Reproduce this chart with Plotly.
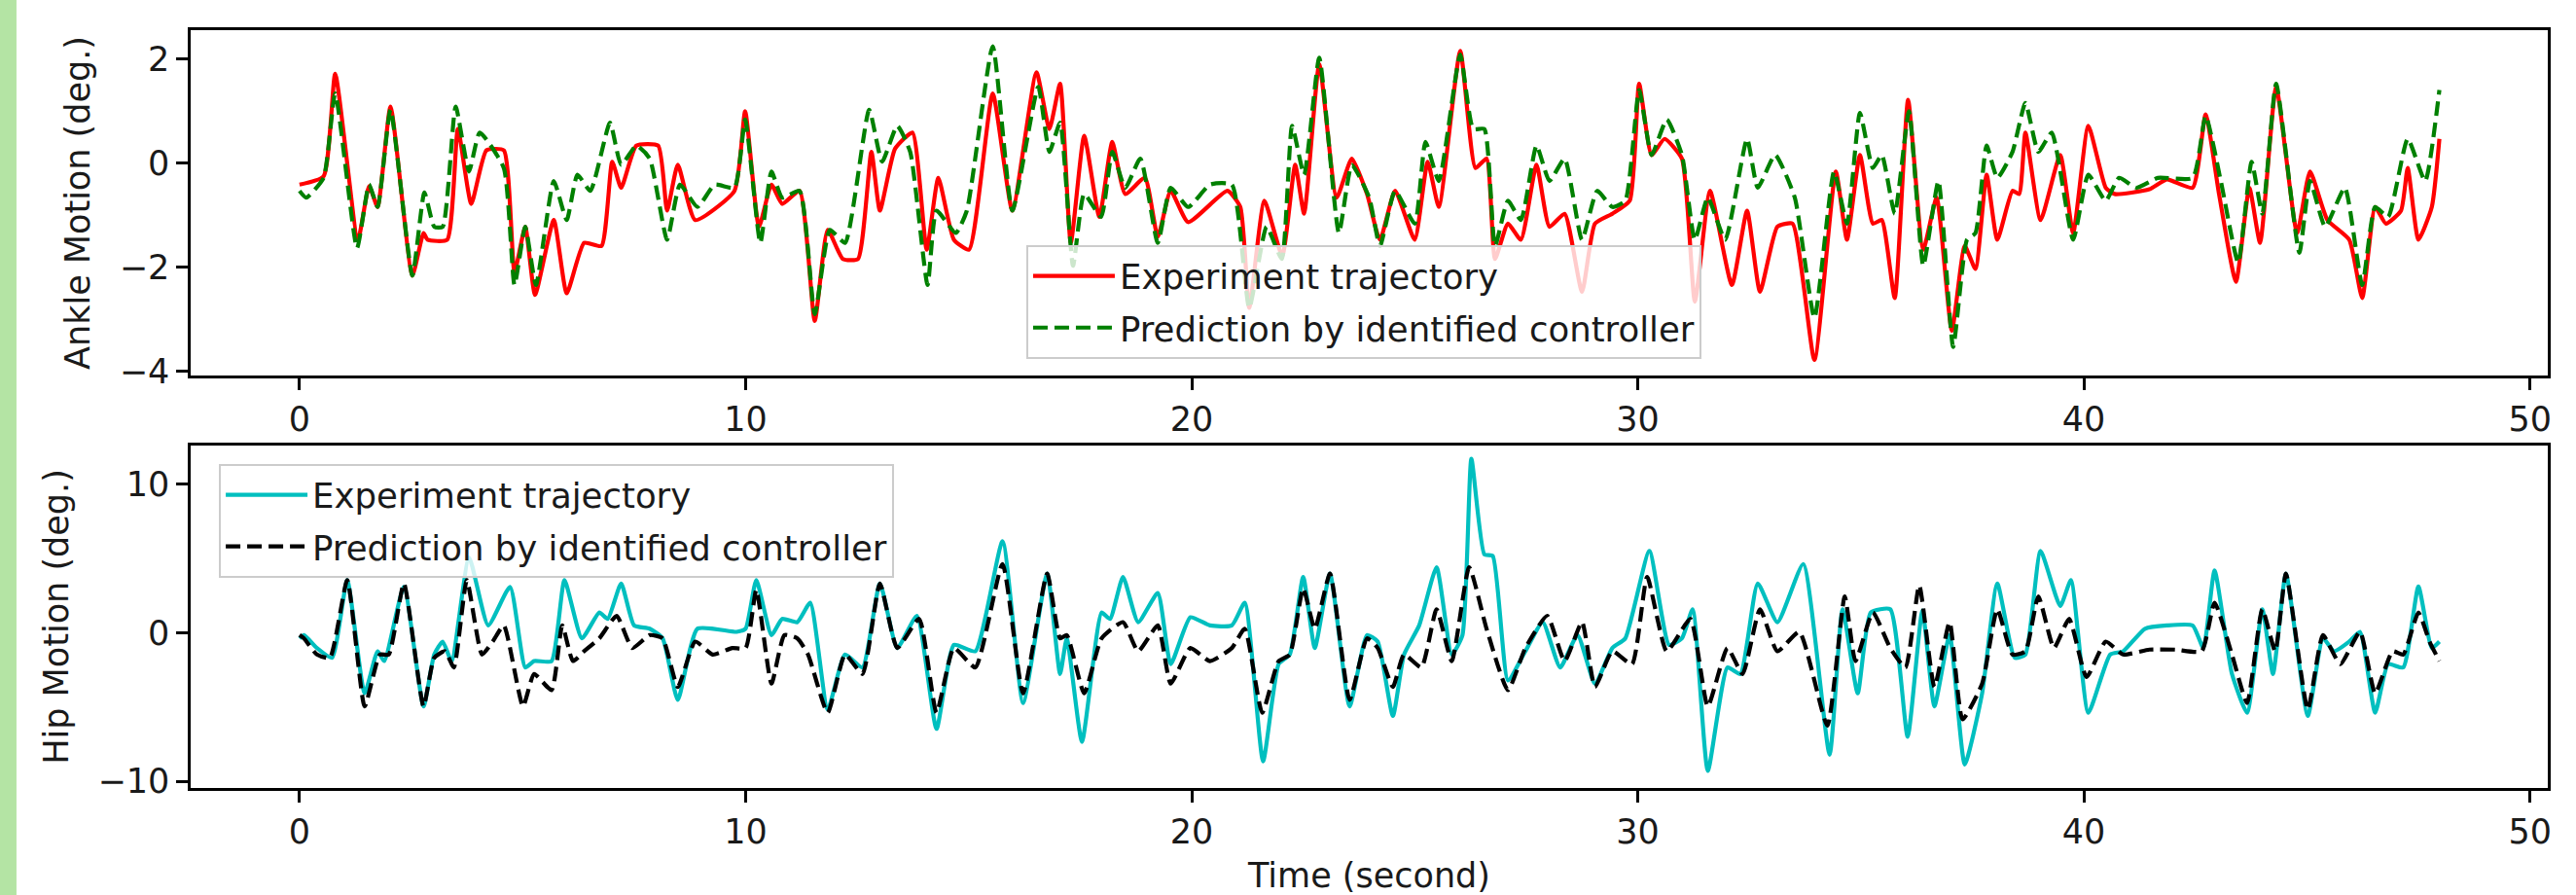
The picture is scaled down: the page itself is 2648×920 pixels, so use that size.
import plotly.graph_objects as go

# ---------------- data ----------------
ankle_exp_t = [
    0.00, 0.54, 0.80, 1.31, 1.56, 1.75, 2.04, 2.53, 2.78, 2.87,
    3.31, 3.55, 3.85, 4.19, 4.58, 4.82, 5.06, 5.28, 5.70, 5.99,
    6.38, 6.77, 7.01, 7.21, 7.55, 8.04, 8.24, 8.48, 8.87, 9.75,
    9.99, 10.30, 10.58, 10.82, 11.21, 11.55, 11.84, 12.18, 12.52, 12.82,
    13.01, 13.35, 13.74, 14.06, 14.32, 14.67, 15.01, 15.54, 15.98, 16.52,
    16.81, 17.05, 17.29, 17.59, 17.93, 18.22, 18.51, 18.95, 19.24, 19.53,
    19.92, 20.80, 21.09, 21.29, 21.63, 22.03, 22.32, 22.52, 22.86, 23.25,
    23.59, 23.93, 24.22, 24.56, 25.00, 25.29, 25.54, 26.02, 26.36, 26.61,
    26.80, 27.09, 27.38, 27.73, 28.02, 28.36, 28.75, 29.04, 29.43, 29.82,
    30.03, 30.31, 30.60, 30.99, 31.28, 31.62, 32.11, 32.45, 32.74, 33.13,
    33.47, 33.96, 34.44, 34.69, 34.98, 35.27, 35.47, 35.76, 36.06, 36.40,
    36.70, 37.04, 37.33, 37.57, 37.82, 38.06, 38.40, 38.55, 38.69, 39.03,
    39.47, 39.76, 40.10, 40.49, 40.69, 41.47, 41.86, 42.44, 42.73, 43.03,
    43.41, 43.71, 43.95, 44.31, 44.78, 45.07, 45.46, 45.95, 46.24, 46.53,
    46.77, 47.11, 47.26, 47.50, 47.80, 47.97,
]
ankle_exp = [
    -0.41, -0.25, 1.72, -1.47, -0.44, -0.84, 1.09, -2.16, -1.34, -1.47,
    -1.47, 0.66, -0.78, 0.25, 0.25, -2.09, -1.22, -2.53, -1.09, -2.50,
    -1.53, -1.59, 0.03, -0.47, 0.34, 0.34, -0.91, -0.03, -1.09, -0.53,
    1.00, -1.22, -0.41, -0.78, -0.53, -3.03, -1.28, -1.84, -1.84, 0.22,
    -0.91, 0.28, 0.59, -1.66, -0.28, -1.47, -1.66, 1.34, -0.91, 1.75,
    0.66, 1.53, -1.53, 0.53, -1.03, 0.41, -0.59, -0.28, -1.41, -0.53,
    -1.13, -0.53, -0.84, -2.78, -0.72, -1.78, -0.03, -0.97, 1.91, -0.66,
    0.09, -0.59, -1.47, -0.53, -1.47, 0.03, -0.84, 2.16, -0.09, 0.09,
    -1.84, -1.16, -1.47, -0.03, -1.22, -0.97, -2.47, -1.16, -0.97, -0.72,
    1.53, 0.16, 0.47, 0.09, -2.66, -0.53, -2.34, -0.91, -2.47, -1.22,
    -1.16, -3.78, -0.16, -1.47, 0.16, -1.16, -1.09, -2.59, 1.22, -1.66,
    -0.66, -3.22, -1.59, -2.03, -0.22, -1.47, -0.53, -0.59, 0.59, -1.09,
    0.16, -1.34, 0.72, -0.47, -0.59, -0.50, -0.31, -0.47, 0.94, -0.59,
    -2.28, -0.47, -1.53, 1.47, -1.34, -0.16, -1.09, -1.47, -2.59, -0.84,
    -1.16, -0.91, -0.09, -1.47, -0.84, 0.47,
]

ankle_pred_t = [
    0.00, 0.15, 0.54, 0.80, 1.29, 1.56, 1.75, 2.04, 2.53, 2.80,
    3.02, 3.21, 3.50, 3.80, 4.04, 4.58, 4.82, 5.06, 5.30, 5.70,
    5.99, 6.23, 6.52, 6.96, 7.21, 7.55, 7.85, 8.24, 8.53, 8.92,
    9.31, 9.75, 9.99, 10.33, 10.58, 10.82, 11.21, 11.55, 11.89, 12.23,
    12.77, 13.06, 13.40, 13.69, 14.08, 14.28, 14.71, 14.96, 15.54, 15.98,
    16.56, 16.81, 17.05, 17.34, 17.59, 17.97, 18.22, 18.51, 18.85, 19.24,
    19.53, 19.92, 20.41, 20.90, 21.29, 21.68, 22.02, 22.25, 22.52, 22.86,
    23.30, 23.59, 23.98, 24.22, 24.56, 25.00, 25.24, 25.54, 26.02, 26.31,
    26.56, 26.80, 27.09, 27.38, 27.73, 28.02, 28.36, 28.75, 29.09, 29.43,
    29.72, 30.03, 30.31, 30.65, 30.99, 31.28, 31.57, 31.96, 32.45, 32.69,
    33.08, 33.52, 33.96, 34.40, 34.69, 34.98, 35.27, 35.47, 35.76, 36.08,
    36.40, 36.74, 37.07, 37.38, 37.57, 37.82, 38.06, 38.40, 38.69, 38.98,
    39.28, 39.76, 40.10, 40.49, 40.79, 41.18, 41.66, 42.44, 42.73, 43.07,
    43.46, 43.76, 44.00, 44.31, 44.83, 45.07, 45.41, 45.85, 46.24, 46.53,
    46.82, 47.26, 47.65, 47.97,
]
ankle_pred = [
    -0.53, -0.66, -0.28, 1.34, -1.63, -0.41, -0.84, 1.03, -2.16, -0.56,
    -1.22, -1.22, 1.09, -0.16, 0.59, -0.09, -2.34, -1.22, -2.34, -0.34,
    -1.09, -0.22, -0.53, 0.78, -0.03, 0.34, 0.09, -1.47, -0.41, -0.84,
    -0.41, -0.47, 0.84, -1.53, -0.16, -0.66, -0.53, -2.90, -1.28, -1.53,
    1.03, 0.03, 0.72, 0.22, -2.34, -0.91, -1.34, -0.91, 2.25, -0.91,
    1.47, 0.22, 0.78, -1.97, -0.59, -1.03, 0.22, -0.47, 0.09, -1.53,
    -0.47, -0.84, -0.41, -0.41, -2.78, -1.22, -1.84, 0.72, -0.22, 2.03,
    -1.34, -0.03, -0.66, -1.59, -0.53, -1.16, 0.41, -0.34, 2.09, 0.66,
    0.66, -1.59, -0.72, -1.09, 0.34, -0.34, 0.09, -1.47, -0.53, -0.84,
    -0.72, 1.41, 0.16, 0.84, 0.16, -1.47, -0.66, -1.47, 0.47, -0.47,
    0.16, -0.66, -2.97, -0.16, -1.16, 0.97, -0.09, 0.16, -0.97, 1.00,
    -1.97, -0.34, -3.53, -1.47, -1.34, 0.34, -0.28, 0.22, 1.16, 0.22,
    0.59, -1.47, -0.22, -0.72, -0.28, -0.47, -0.28, -0.28, 0.91, -0.34,
    -1.91, 0.03, -0.97, 1.53, -1.72, -0.34, -1.22, -0.47, -2.34, -0.84,
    -1.03, 0.47, -0.34, 1.41,
]

hip_exp_t = [
    0.00, 0.10, 0.39, 0.73, 1.07, 1.46, 1.75, 1.90, 2.34, 2.78,
    3.02, 3.21, 3.41, 3.80, 4.23, 4.72, 5.06, 5.26, 5.65, 5.94,
    6.33, 6.72, 6.91, 7.21, 7.50, 7.85, 8.14, 8.48, 8.92, 9.80,
    10.00, 10.24, 10.58, 10.82, 11.16, 11.45, 11.84, 12.23, 12.62, 13.01,
    13.40, 13.84, 14.28, 14.67, 15.15, 15.76, 16.22, 16.76, 17.05, 17.20,
    17.54, 17.98, 18.17, 18.46, 18.80, 19.24, 19.53, 19.97, 20.41, 20.90,
    21.19, 21.60, 21.95, 22.20, 22.50, 22.76, 23.10, 23.54, 23.93, 24.17,
    24.51, 24.76, 25.10, 25.49, 25.83, 26.07, 26.27, 26.56, 26.75, 27.09,
    27.48, 27.87, 28.26, 28.65, 29.04, 29.43, 29.72, 30.26, 30.70, 30.99,
    31.23, 31.57, 32.01, 32.30, 32.69, 33.13, 33.71, 34.30, 34.59, 34.93,
    35.22, 35.66, 36.05, 36.38, 36.65, 36.99, 37.33, 37.72, 38.06, 38.45,
    38.69, 39.03, 39.47, 39.71, 40.10, 40.59, 40.88, 41.37, 41.86, 42.44,
    42.68, 42.93, 43.32, 43.66, 44.00, 44.24, 44.53, 45.02, 45.36, 45.61,
    45.95, 46.19, 46.53, 46.82, 47.16, 47.50, 47.80, 47.97,
]
hip_exp = [
    -0.37, -0.15, -1.02, -1.68, 3.55, -4.07, -1.24, -1.90, 3.10, -4.95,
    -1.46, -0.59, -1.90, 5.08, 0.50, 3.10, -2.33, -1.90, -1.90, 3.55,
    -0.37, 1.37, 0.94, 3.33, 0.50, 0.28, -0.37, -4.51, 0.28, 0.07,
    0.28, 3.55, -0.15, 0.94, 0.72, 2.03, -5.16, -1.46, -2.33, 3.33,
    -1.02, 1.15, -6.47, -0.81, -1.24, 6.17, -4.73, 3.99, -2.77, -0.37,
    -7.34, 1.37, 0.94, 3.77, 0.72, 2.68, -2.11, 1.05, 0.50, 0.50,
    2.03, -8.65, -2.10, -1.46, 3.77, -1.02, 3.99, -4.95, -0.15, -0.59,
    -5.60, -1.46, 0.50, 4.42, -1.46, -0.15, 11.72, 5.29, 5.18, -3.20,
    -1.24, 0.72, -2.33, -0.15, -3.42, -1.02, -0.37, 5.51, -0.81, -0.37,
    1.59, -9.30, -2.33, -2.77, 3.33, 0.72, 4.64, -8.21, 1.59, -4.07,
    1.37, 1.59, -7.00, 1.50, -4.95, -0.15, -8.87, -4.07, 3.33, -1.68,
    -1.46, 5.51, 1.81, 3.55, -5.38, -1.46, -1.24, 0.28, 0.50, 0.50,
    -1.02, 4.20, -2.77, -5.38, 1.59, -2.77, 3.99, -5.60, -0.37, -1.24,
    -0.59, 0.07, -5.38, -2.11, -2.33, 3.12, -1.02, -0.59,
]

hip_pred_t = [
    0.00, 0.10, 0.39, 0.68, 1.07, 1.46, 1.80, 2.00, 2.34, 2.78,
    3.02, 3.26, 3.46, 3.75, 4.09, 4.33, 4.58, 5.01, 5.26, 5.65,
    5.89, 6.13, 6.38, 6.72, 7.11, 7.46, 7.85, 8.14, 8.48, 8.87,
    9.26, 9.70, 10.00, 10.24, 10.58, 10.87, 11.16, 11.40, 11.84, 12.23,
    12.62, 13.01, 13.40, 13.89, 14.28, 14.67, 15.15, 15.76, 16.22, 16.76,
    17.05, 17.20, 17.59, 17.98, 18.46, 18.80, 19.24, 19.53, 19.97, 20.41,
    20.90, 21.19, 21.58, 21.95, 22.20, 22.50, 22.76, 23.10, 23.54, 23.93,
    24.17, 24.51, 24.76, 25.15, 25.49, 25.83, 26.22, 26.61, 27.09, 27.48,
    27.97, 28.36, 28.75, 29.04, 29.43, 29.87, 30.21, 30.65, 31.18, 31.57,
    32.01, 32.35, 32.74, 33.13, 33.62, 34.25, 34.64, 34.88, 35.27, 35.66,
    36.00, 36.31, 36.65, 36.99, 37.28, 37.72, 38.06, 38.40, 38.69, 38.98,
    39.33, 39.67, 40.06, 40.49, 40.88, 41.47, 42.05, 42.64, 42.93, 43.32,
    43.66, 44.00, 44.29, 44.53, 45.02, 45.36, 45.75, 46.19, 46.53, 46.92,
    47.16, 47.50, 47.75, 47.97,
]
hip_pred = [
    -0.15, -0.37, -1.46, -1.68, 3.55, -4.95, -1.46, -1.46, 3.33, -4.95,
    -1.68, -1.24, -2.33, 3.55, -1.46, -0.59, 0.50, -4.95, -2.77, -3.86,
    0.50, -1.90, -1.24, -0.37, 1.15, -1.02, -0.15, -0.37, -3.64, -0.59,
    -1.46, -1.02, -1.02, 2.90, -3.42, -0.15, -0.37, -1.46, -5.38, -1.46,
    -2.77, 3.33, -1.02, 0.94, -5.38, -1.02, -2.33, 4.64, -4.07, 3.99,
    -0.37, -0.15, -4.07, -0.37, 0.72, -1.24, 0.50, -3.42, -1.02, -1.90,
    -1.02, 0.28, -5.38, -1.90, -1.46, 3.00, 0.28, 3.99, -4.51, -0.37,
    -1.02, -3.64, -1.46, -2.33, 1.59, -1.90, 4.42, 0.28, -3.86, -1.02,
    1.15, -1.90, 0.72, -3.64, -1.24, -2.11, 3.77, -1.24, 0.94, -4.95,
    -1.02, -2.77, 1.59, -1.24, 0.07, -6.25, 2.46, -1.90, 1.37, -1.02,
    -2.33, 3.20, -3.64, 0.72, -5.82, -3.42, 1.59, -1.46, -1.24, 2.46,
    -1.02, 0.94, -2.98, -0.59, -1.46, -1.13, -1.13, -1.24, 2.03, -1.46,
    -4.73, 1.59, -1.24, 3.99, -5.16, -0.15, -2.11, 0.07, -4.07, -1.24,
    -1.46, 1.37, -0.59, -1.90,
]

x_ticks = [0, 10, 20, 30, 40, 50]
ankle_ticks = [-4, -2, 0, 2]
hip_ticks = [-10, 0, 10]

# ---------------- styling ----------------
FONT = "DejaVu Sans"
TXT = "#1a1a1a"
LW = 4.2
DASH = "15px,7px"
SMOOTH = 0.5

fig = go.Figure()
fig.add_trace(go.Scatter(
    x=ankle_exp_t, y=ankle_exp, mode="lines", name="Experiment trajectory",
    line=dict(color="#ff0000", width=LW, shape="spline", smoothing=SMOOTH),
    xaxis="x", yaxis="y", legend="legend", legendgroup="a1"))
fig.add_trace(go.Scatter(
    x=ankle_pred_t, y=ankle_pred, mode="lines", name="Prediction by identified controller",
    line=dict(color="#008000", width=LW, dash=DASH, shape="spline", smoothing=SMOOTH),
    xaxis="x", yaxis="y", legend="legend", legendgroup="a2"))
fig.add_trace(go.Scatter(
    x=hip_exp_t, y=hip_exp, mode="lines", name="Experiment trajectory",
    line=dict(color="#00bfbf", width=LW, shape="spline", smoothing=SMOOTH),
    xaxis="x2", yaxis="y2", legend="legend2", legendgroup="h1"))
fig.add_trace(go.Scatter(
    x=hip_pred_t, y=hip_pred, mode="lines", name="Prediction by identified controller",
    line=dict(color="#000000", width=LW, dash=DASH, shape="spline", smoothing=SMOOTH),
    xaxis="x2", yaxis="y2", legend="legend2", legendgroup="h2"))

axis_style = dict(
    showline=True, linecolor="black", linewidth=2.5, mirror=True,
    ticks="outside", ticklen=12, tickwidth=2.5, tickcolor="black",
    showgrid=False, zeroline=False,
    tickfont=dict(family=FONT, size=35, color=TXT),
)
title_font = dict(family=FONT, size=35, color=TXT)

legend_style = dict(
    xanchor="left", yanchor="top",
    bgcolor="rgba(255,255,255,0.8)", bordercolor="#cccccc", borderwidth=2,
    font=dict(family=FONT, size=35.5, color=TXT),
    itemwidth=84, tracegroupgap=4, traceorder="grouped",
)

fig.update_layout(
    width=2648, height=920,
    margin=dict(l=196, r=29, t=31, b=110, autoexpand=False),
    paper_bgcolor="white", plot_bgcolor="white",
    xaxis=dict(axis_style, range=[-2.44, 50.4], tickvals=x_ticks, anchor="y", domain=[0, 1]),
    yaxis=dict(axis_style, range=[-4.08, 2.56], tickvals=ankle_ticks, anchor="x",
               domain=[0.5443, 1],
               title=dict(text="Ankle Motion (deg.)", font=title_font, standoff=20)),
    xaxis2=dict(axis_style, range=[-2.44, 50.4], tickvals=x_ticks, anchor="y2", domain=[0, 1],
                title=dict(text="Time (second)", font=title_font, standoff=18)),
    yaxis2=dict(axis_style, range=[-10.45, 12.62], tickvals=hip_ticks, anchor="x2",
                domain=[0, 0.4519],
                title=dict(text="Hip Motion (deg.)", font=title_font, standoff=20)),
    legend=dict(legend_style, x=0.3545, y=0.7163),
    legend2=dict(legend_style, x=0.012, y=0.4275),
    shapes=[dict(type="rect", xref="paper", yref="paper",
                 x0=-0.0809, x1=-0.0739, y0=-0.1412, y1=1.0398,
                 fillcolor="#b4e4a4", line=dict(width=0), layer="below")],
)

fig.write_html("out.html")
